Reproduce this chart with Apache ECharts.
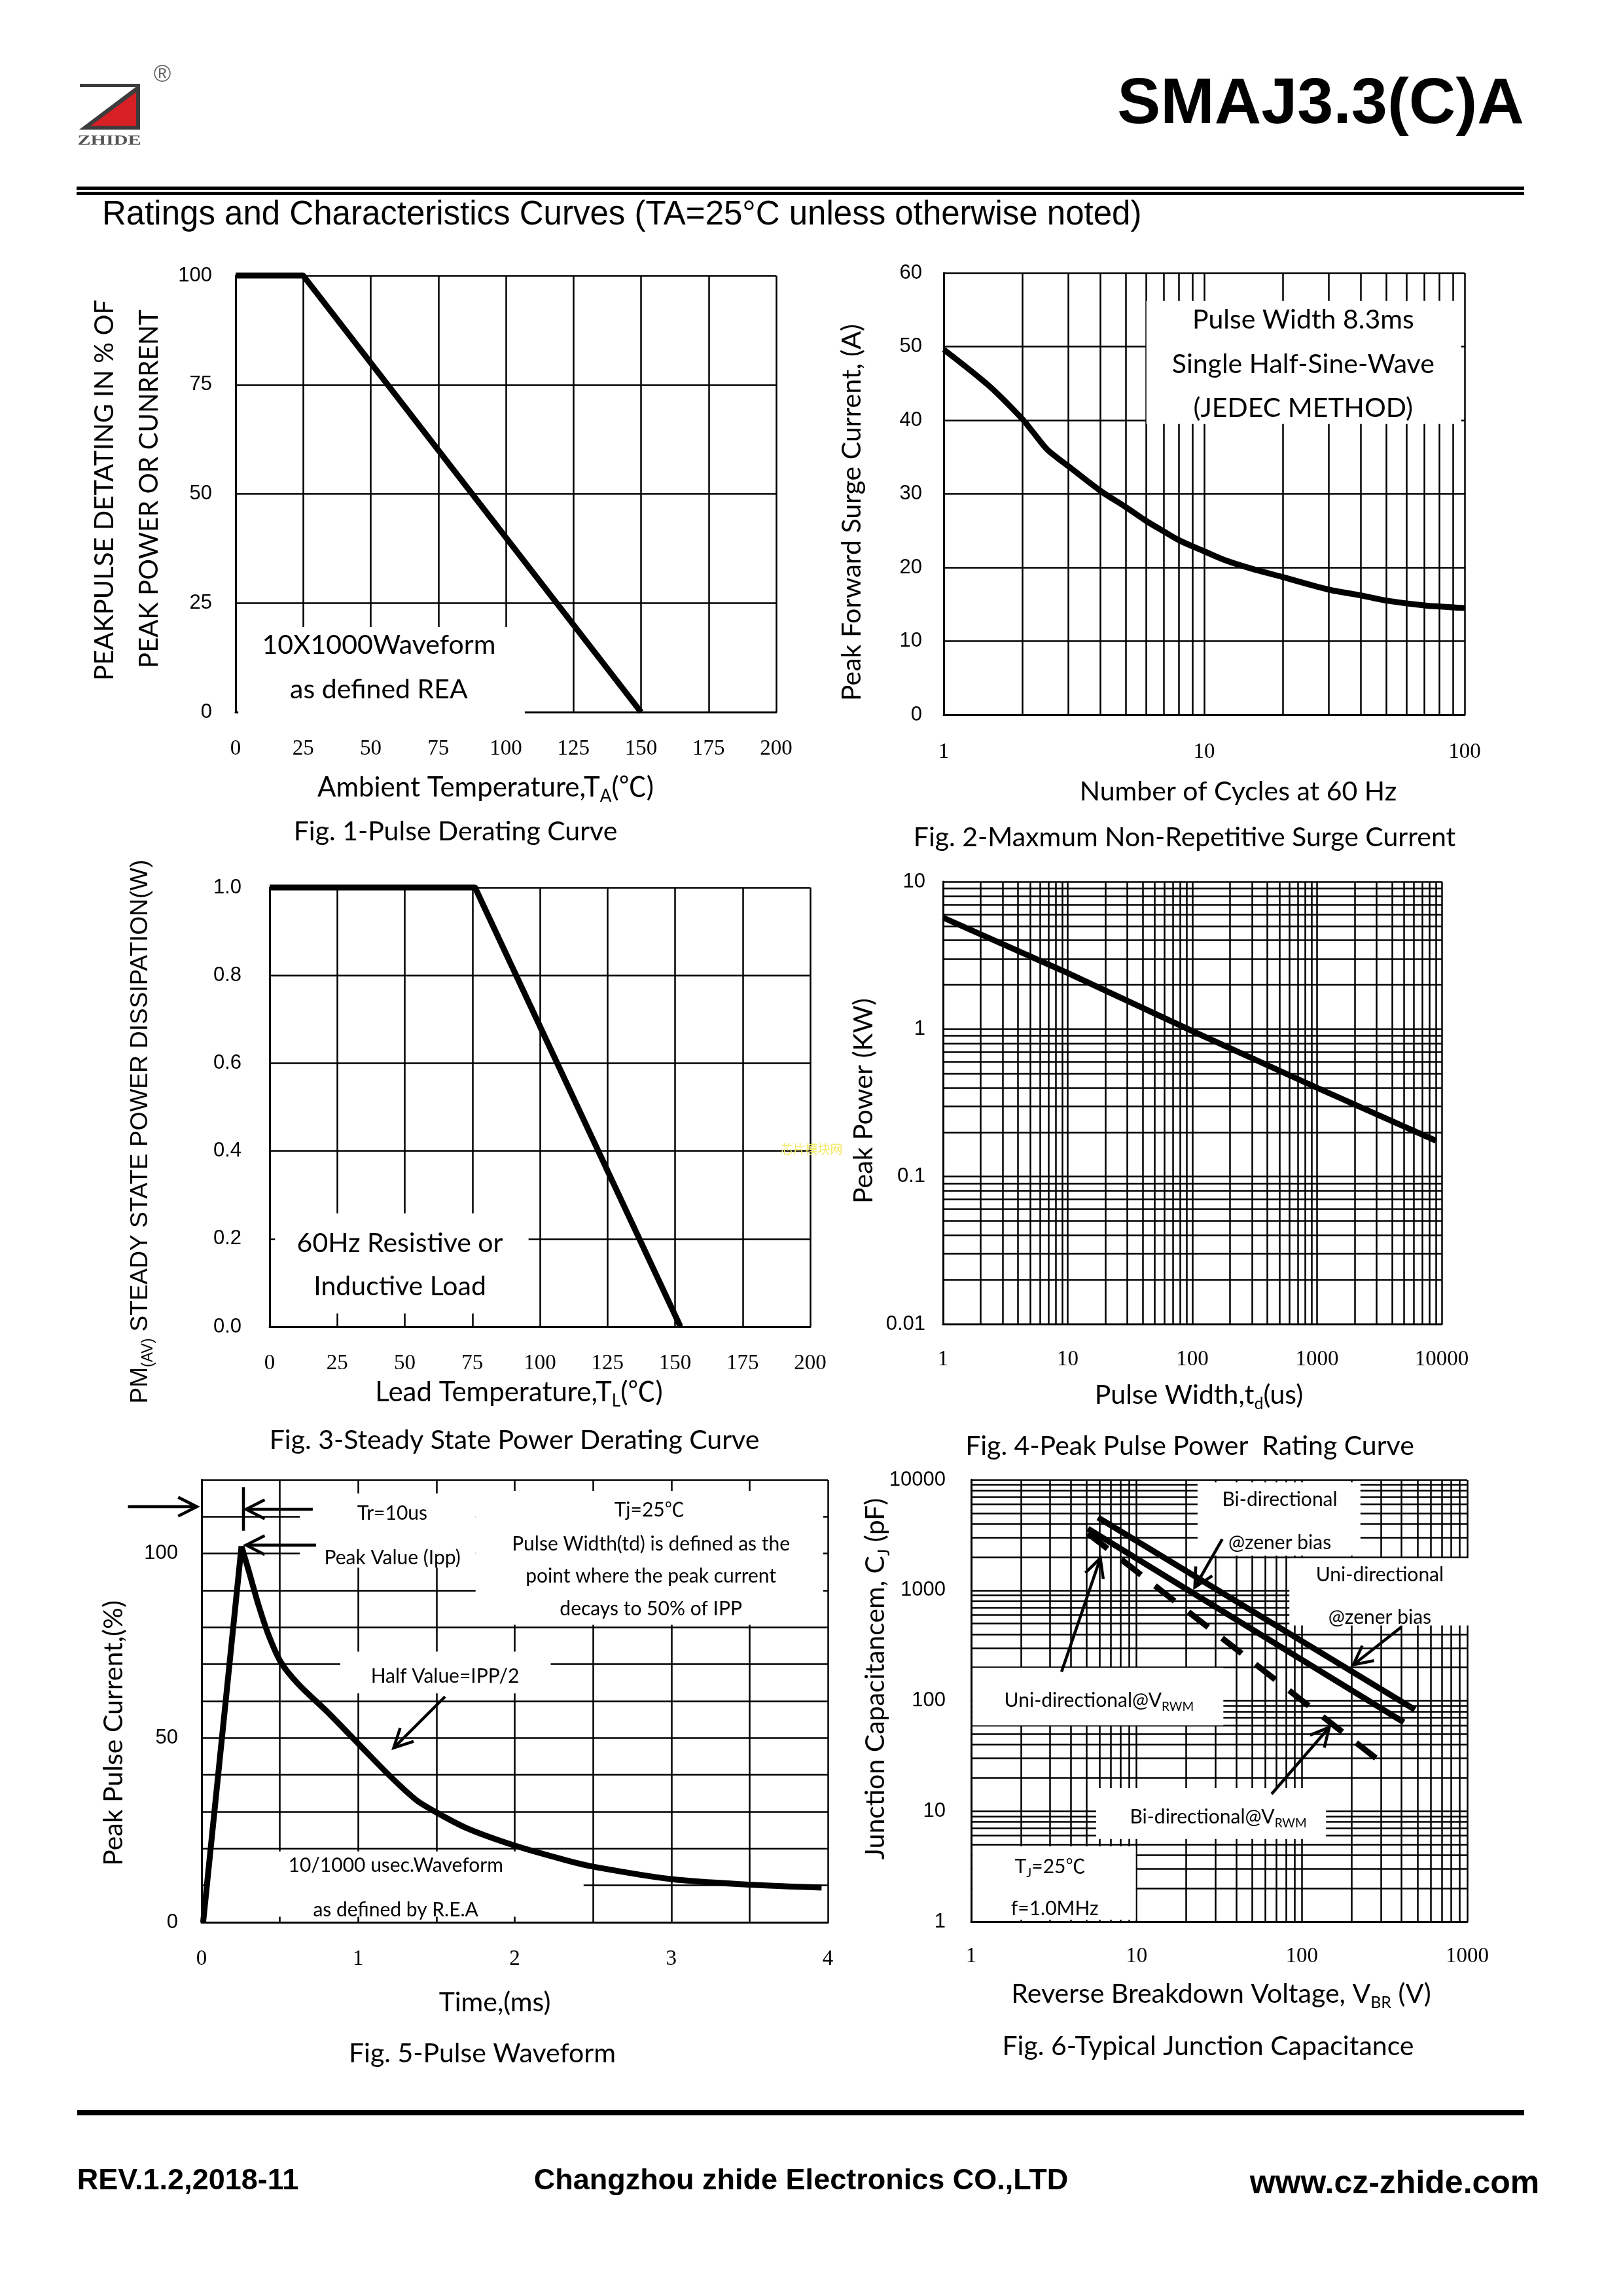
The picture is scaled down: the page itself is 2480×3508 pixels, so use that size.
<!DOCTYPE html>
<html>
<head>
<meta charset="utf-8">
<script src="https://cdn.jsdelivr.net/npm/echarts@6/dist/echarts.min.js"></script>
<style>
html,body{margin:0;padding:0;background:#fff;}
#c{width:2480px;height:3508px;}
</style>
</head>
<body>
<div id="c"></div>
<script>
// ===================== DATA =====================
// Fig.1 Pulse Derating Curve
const fig1XTicks = [0, 25, 50, 75, 100, 125, 150, 175, 200];
const fig1YTicks = [0, 25, 50, 75, 100];
const fig1Temp = [0, 25, 150];
const fig1Percent = [100, 100, 0];

// Fig.2 Maximum Non-Repetitive Surge Current
const fig2XTicks = [1, 10, 100];
const fig2YTicks = [0, 10, 20, 30, 40, 50, 60];
const fig2Cycles = [1, 1.5, 2, 2.2, 2.5, 3, 4, 5, 6, 7, 8, 10, 12, 15, 20, 30, 40, 50, 70, 100];
const fig2Current = [49.6, 44.6, 40.2, 38.4, 36.0, 33.8, 30.4, 28.2, 26.3, 24.9, 23.7, 22.2, 21.0, 19.9, 18.7, 17.0, 16.2, 15.5, 14.85, 14.5];

// Fig.3 Steady State Power Derating Curve
const fig3XTicks = [0, 25, 50, 75, 100, 125, 150, 175, 200];
const fig3YTicks = [0, 0.2, 0.4, 0.6, 0.8, 1.0];
const fig3Temp = [0, 76, 152];
const fig3Power = [1.0, 1.0, 0];

// Fig.4 Peak Pulse Power Rating Curve
const fig4XTicks = [1, 10, 100, 1000, 10000];
const fig4YTicks = [0.01, 0.1, 1, 10];
const fig4Width = [1, 10, 100, 1000, 9000];
const fig4Power = [5.7, 2.4, 0.97, 0.40, 0.175];

// Fig.5 Pulse Waveform
const fig5XTicks = [0, 1, 2, 3, 4];
const fig5YTicks = [0, 50, 100];
const fig5YMax = 120;
const fig5RiseTime = [0.01, 0.255];
const fig5RiseCurrent = [0, 102];
const fig5DecayTime = [0.255, 0.3, 0.364, 0.427, 0.507, 0.62, 0.8, 1.0, 1.2, 1.37, 1.5, 1.7, 2.0, 2.33, 2.5, 3.0, 3.5, 3.96];
const fig5DecayCurrent = [102, 95.5, 86, 78, 70.5, 64.5, 57.2, 48.5, 39.8, 33.2, 29.8, 25.4, 20.8, 16.8, 15.1, 11.7, 10.2, 9.4];

// Fig.6 Typical Junction Capacitance
const fig6XTicks = [1, 10, 100, 1000];
const fig6YTicks = [1, 10, 100, 1000, 10000];
const fig6UniZenerV = [5.85, 482];
const fig6UniZenerC = [4550, 83];
const fig6BiZenerV = [5.08, 413];
const fig6BiZenerC = [3614, 63.8];
const fig6RwmV = [5.08, 286];
const fig6RwmC = [3270, 29.5];

// ===================== STYLE / LAYOUT =====================
const BLACK = '#000';
const GRID_W = 2.5;
const LINE_W = 9;
const SANS = '"Liberation Sans", Arial, sans-serif';
const SERIF = '"Liberation Serif", "Times New Roman", serif';
const CAL = 'Lato, "Noto Sans CJK SC", sans-serif';

const grids = [
  {left: 360, top: 421, width: 826, height: 667},
  {left: 1442, top: 417, width: 796, height: 675},
  {left: 412, top: 1356, width: 826, height: 671},
  {left: 1441, top: 1347, width: 762, height: 676},
  {left: 308, top: 2261, width: 957, height: 676},
  {left: 1484, top: 2261, width: 758, height: 675}
];

function isTick(ticks, v) {
  return ticks.some(t => Math.abs(t - v) <= 1e-9 * Math.max(1, Math.abs(t)));
}

function makeAxis(gi, dim, ticks, o) {
  const ax = {
    gridIndex: gi,
    type: o.log ? 'log' : 'value',
    min: ticks[0],
    max: o.max !== undefined ? o.max : ticks[ticks.length - 1],
    axisLine: {show: true, onZero: false, lineStyle: {color: BLACK, width: 3}},
    axisTick: {show: false},
    splitLine: {show: true, lineStyle: {color: BLACK, width: GRID_W}},
    axisLabel: {
      show: true,
      color: BLACK,
      fontFamily: dim === 'x' ? SERIF : SANS,
      fontSize: dim === 'x' ? 33 : 31,
      margin: o.margin,
      formatter: function (v) {
        const n = +(+v).toPrecision(8);
        if (!isTick(ticks, n)) return '';
        return o.fmt ? o.fmt(n) : String(n);
      }
    },
    z: 0
  };
  if (o.log) ax.logBase = 10;
  else ax.interval = o.step || (ticks[1] - ticks[0]);
  return ax;
}

function logMinors(min, max) {
  const out = [];
  for (let d = min; d < max * 0.999; d *= 10) {
    for (let k = 2; k <= 9; k++) out.push(+(d * k).toPrecision(8));
  }
  return out;
}

function curve(gi, xs, ys, o) {
  o = o || {};
  return {
    type: 'line', xAxisIndex: gi, yAxisIndex: gi,
    data: xs.map((x, i) => [x, ys[i]]),
    symbol: 'none', showSymbol: false,
    smooth: o.smooth || false,
    lineStyle: {color: BLACK, width: o.width || LINE_W, type: o.dash || 'solid', cap: 'butt', join: 'round'},
    z: 7, silent: true, clip: false, animation: false
  };
}

function minorGrid(gi, xs, ys) {
  return {
    type: 'line', xAxisIndex: gi, yAxisIndex: gi, data: [], z: 1, silent: true,
    markLine: {
      z: 1, silent: true, symbol: ['none', 'none'], label: {show: false},
      lineStyle: {color: BLACK, width: GRID_W, type: 'solid'},
      emphasis: {disabled: true}, animation: false,
      data: xs.map(v => ({xAxis: v})).concat(ys.map(v => ({yAxis: v})))
    }
  };
}

const option = {
  animation: false,
  backgroundColor: '#fff',
  grid: grids.map(g => Object.assign({show: false, containLabel: false, outerBoundsMode: 'none'}, g)),
  xAxis: [
    makeAxis(0, 'x', fig1XTicks, {margin: 40}),
    makeAxis(1, 'x', fig2XTicks, {log: true, margin: 41}),
    makeAxis(2, 'x', fig3XTicks, {margin: 40}),
    makeAxis(3, 'x', fig4XTicks, {log: true, margin: 38}),
    makeAxis(4, 'x', fig5XTicks, {margin: 40, step: 0.5}),
    makeAxis(5, 'x', fig6XTicks, {log: true, margin: 37})
  ],
  yAxis: [
    makeAxis(0, 'y', fig1YTicks, {margin: 36}),
    makeAxis(1, 'y', fig2YTicks, {margin: 33}),
    makeAxis(2, 'y', fig3YTicks, {margin: 43, fmt: v => v.toFixed(1)}),
    makeAxis(3, 'y', fig4YTicks, {log: true, margin: 27}),
    makeAxis(4, 'y', fig5YTicks, {margin: 36, step: 10, max: fig5YMax}),
    makeAxis(5, 'y', fig6YTicks, {log: true, margin: 39})
  ],
  series: [
    minorGrid(1, logMinors(1, 100), []),
    minorGrid(3, logMinors(1, 10000), logMinors(0.01, 10)),
    minorGrid(5, logMinors(1, 1000), logMinors(1, 10000)),
    curve(0, fig1Temp, fig1Percent),
    curve(1, fig2Cycles, fig2Current, {smooth: 0.3}),
    curve(2, fig3Temp, fig3Power),
    curve(3, fig4Width, fig4Power),
    curve(4, fig5RiseTime, fig5RiseCurrent),
    curve(4, fig5DecayTime, fig5DecayCurrent, {smooth: 0.3}),
    curve(5, fig6UniZenerV, fig6UniZenerC),
    curve(5, fig6BiZenerV, fig6BiZenerC),
    curve(5, fig6RwmV, fig6RwmC, {dash: [38, 27]})
  ]
};

const chart = echarts.init(document.getElementById('c'), null, {renderer: 'canvas', width: 2480, height: 3508});
chart.setOption(option);

// ===================== ANNOTATIONS =====================
function P(gi, x, y) { return chart.convertToPixel({gridIndex: gi}, [x, y]); }

function T(x, y, text, size, o) {
  o = o || {};
  const al = o.align || 'center';
  const style = {
    text: text, fontSize: size, fontFamily: o.font || CAL, fontWeight: o.weight || 'normal',
    fill: o.fill || BLACK, textFill: o.fill || BLACK,
    align: al, verticalAlign: 'middle', textAlign: al, textVerticalAlign: 'middle'
  };
  if (o.rich) {
    style.rich = o.rich;
    style.lineHeight = Math.round(size * 1.25);
  }
  const el = {type: 'text', x: x, y: y, z: 9, silent: true, style: style};
  if (o.rot) el.rotation = o.rot;
  if (o.scaleX) el.scaleX = o.scaleX;
  return el;
}
function subRich(size, font) {
  return {s: {fontSize: Math.round(size * 0.62), fontFamily: font || CAL, fill: BLACK, textFill: BLACK,
              verticalAlign: 'bottom', lineHeight: Math.round(size * 0.62)}};
}
function DT(gi, x, y, text, size, o) { const p = P(gi, x, y); return T(p[0], p[1], text, size, o); }

function box(gi, x1, y1, x2, y2) {
  const a = P(gi, x1, y1), b = P(gi, x2, y2);
  return {type: 'rect', z: 6, silent: true,
    shape: {x: Math.min(a[0], b[0]), y: Math.min(a[1], b[1]), width: Math.abs(b[0] - a[0]), height: Math.abs(b[1] - a[1])},
    style: {fill: '#fff', stroke: 'none'}};
}
function seg(points, w, z) {
  return {type: 'polyline', z: z || 8, silent: true, shape: {points: points},
    style: {stroke: BLACK, lineWidth: w, fill: 'none', lineCap: 'butt', lineJoin: 'miter'}};
}
function arrowPx(a, b, w, head, ang) {
  w = w || 4.5; head = head || 32; ang = ang || 0.47;
  const dx = a[0] - b[0], dy = a[1] - b[1];
  const L = Math.hypot(dx, dy), ux = dx / L, uy = dy / L;
  const c = Math.cos(ang), s = Math.sin(ang);
  const r1 = [ux * c - uy * s, ux * s + uy * c];
  const r2 = [ux * c + uy * s, -ux * s + uy * c];
  return [
    seg([a, b], w),
    seg([[b[0] + r1[0] * head, b[1] + r1[1] * head], b, [b[0] + r2[0] * head, b[1] + r2[1] * head]], w)
  ];
}
function arrow(gi, from, to) { return arrowPx(P(gi, from[0], from[1]), P(gi, to[0], to[1])); }

const G = [];

// ---- Header ----
G.push({type: 'rect', z: 9, shape: {x: 122, y: 128, width: 92, height: 5}, style: {fill: '#3c3c3c'}});
G.push({type: 'polygon', z: 9, shape: {points: [[214, 128], [214, 198], [121, 198]]}, style: {fill: '#3c3c3c'}});
G.push({type: 'polygon', z: 10, shape: {points: [[208, 141], [208, 192.5], [138, 192.5]]}, style: {fill: '#d71f26'}});
G.push(T(167, 215, 'ZHIDE', 22, {font: SERIF, weight: 'bold', fill: '#555', scaleX: 1.37}));
G.push(T(248, 115, '®', 36, {font: SANS, fill: '#666'}));
G.push(T(2018, 161, 'SMAJ3.3(C)A', 99, {font: SANS, weight: 'bold'}));
G.push({type: 'rect', z: 9, shape: {x: 117, y: 285, width: 2212, height: 5}, style: {fill: BLACK}});
G.push({type: 'rect', z: 9, shape: {x: 117, y: 293, width: 2212, height: 5}, style: {fill: BLACK}});
G.push(T(156, 329, 'Ratings and Characteristics Curves (TA=25°C unless otherwise noted)', 51, {font: SANS, align: 'left'}));

// ---- Footer ----
G.push({type: 'rect', z: 9, shape: {x: 118, y: 3224, width: 2211, height: 8}, style: {fill: BLACK}});
G.push(T(287, 3333, 'REV.1.2,2018-11', 45, {font: SANS, weight: 'bold'}));
G.push(T(1224, 3333, 'Changzhou zhide Electronics CO.,LTD', 45, {font: SANS, weight: 'bold'}));
G.push(T(2131, 3337, 'www.cz-zhide.com', 50, {font: SANS, weight: 'bold'}));

const ROT = Math.PI / 2;
// ---- Fig.1 ----
G.push(box(0, 1, -2, 107, 19.5));
G.push(DT(0, 53, 15.3, '10X1000Waveform', 41));
G.push(DT(0, 53, 5.1, 'as defined REA', 41));
G.push(T(742, 1203, 'Ambient Temperature,T{s|A}(℃)', 42, {rich: subRich(42)}));
G.push(T(696, 1271, 'Fig. 1-Pulse Derating Curve', 41));
G.push(T(160, 749, 'PEAKPULSE DETATING IN % OF', 40, {rot: ROT}));
G.push(T(228, 747, 'PEAK POWER OR CUNRRENT', 40, {rot: ROT}));

// ---- Fig.2 ----
G.push(box(1, 6, 39.5, 97, 56.2));
G.push(DT(1, 24, 53.6, 'Pulse Width 8.3ms', 41));
G.push(DT(1, 24, 47.6, 'Single Half-Sine-Wave', 41));
G.push(DT(1, 24, 41.6, '(JEDEC METHOD)', 41));
G.push(T(1892, 1210, 'Number of Cycles at 60 Hz', 41));
G.push(T(1810, 1280, 'Fig. 2-Maxmum Non-Repetitive Surge Current', 41));
G.push(T(1302, 783, 'Peak Forward Surge Current, (A)', 41, {rot: ROT}));

// ---- Fig.3 ----
G.push(box(2, 2, 0.03, 95.8, 0.258));
G.push(DT(2, 48.2, 0.19, '60Hz Resistive or', 41));
G.push(DT(2, 48.2, 0.091, 'Inductive Load', 41));
G.push(T(793, 2127, 'Lead Temperature,T{s|L}(℃)', 42, {rich: subRich(42)}));
G.push(T(786, 2201, 'Fig. 3-Steady State Power Derating Curve', 41));
G.push(T(215, 1729, 'PM{s|(AV)} STEADY STATE POWER DISSIPATION(W)', 37, {rot: ROT, font: SANS, rich: subRich(37, SANS)}));
G.push(T(1240, 1756, '芯片模块网', 19, {font: '"Noto Sans CJK SC", sans-serif', fill: '#f3e96a'}));

// ---- Fig.4 ----
G.push(T(1832, 2132, 'Pulse Width,t{s|d}(us)', 41, {rich: subRich(41)}));
G.push(T(1818, 2210, 'Fig. 4-Peak Pulse Power  Rating Curve', 41));
G.push(T(1320, 1682, 'Peak Power (KW)', 41, {rot: ROT}));

// ---- Fig.5 ----
G.push(box(4, 0.627, 96.2, 1.75, 116.3));
G.push(box(4, 1.75, 80.7, 3.97, 117));
G.push(box(4, 0.886, 62.1, 2.23, 73.4));
G.push(box(4, 0.02, 1.5, 2.44, 19.2));
[
  ['Tr=10us', 1.218, 110.8], ['Peak Value (Ipp)', 1.219, 98.9], ['Tj=25℃', 2.86, 111.7],
  ['Pulse Width(td) is defined as the', 2.87, 102.6], ['point where the peak current', 2.87, 93.8],
  ['decays to 50% of IPP', 2.87, 85.0], ['Half Value=IPP/2', 1.555, 66.6],
  ['10/1000 usec.Waveform', 1.24, 15.4], ['as defined by R.E.A', 1.24, 3.4]
].forEach(a => G.push(DT(4, a[1], a[2], a[0], 30)));
arrow(4, [-0.47, 112.7], [-0.03, 112.7]).forEach(e => G.push(e));
G.push(seg([P(4, 0.2675, 118), P(4, 0.2675, 106.2)], 4.5));
arrow(4, [0.71, 112], [0.284, 112]).forEach(e => G.push(e));
arrow(4, [0.731, 102.3], [0.284, 102.3]).forEach(e => G.push(e));
arrow(4, [1.555, 61.2], [1.227, 47.3]).forEach(e => G.push(e));
G.push(T(756, 3060, 'Time,(ms)', 41));
G.push(T(737, 3138, 'Fig. 5-Pulse Waveform', 41));
G.push(T(174, 2648, 'Peak Pulse Current,(%)', 41, {rot: ROT}));

// ---- Fig.6 ----
G.push(box(5, 23.4, 2060, 226, 9500));
G.push(box(5, 84, 480, 1030, 1950));
G.push(box(5, 1.02, 59.7, 33.5, 199));
G.push(box(5, 5.7, 5.6, 140, 16.2));
G.push(box(5, 1.02, 1.04, 9.9, 4.8));
G.push(DT(5, 73.5, 6640, 'Bi-directional', 30));
G.push(DT(5, 73.5, 2700, '@zener bias', 30));
G.push(DT(5, 296, 1384, 'Uni-directional', 30));
G.push(DT(5, 296, 564, '@zener bias', 30));
G.push(DT(5, 5.93, 100, 'Uni-directional@V{s|RWM}', 30, {rich: subRich(30)}));
G.push(DT(5, 31.2, 8.8, 'Bi-directional@V{s|RWM}', 30, {rich: subRich(30)}));
G.push(DT(5, 3.0, 3.15, 'T{s|J}=25℃', 30, {rich: subRich(30)}));
G.push(DT(5, 3.2, 1.31, 'f=1.0MHz', 30));
arrow(5, [33, 2904], [22.5, 1063]).forEach(e => G.push(e));
arrow(5, [400, 466], [205, 212]).forEach(e => G.push(e));
arrow(5, [3.52, 183], [6.04, 1950]).forEach(e => G.push(e));
arrow(5, [65.6, 14.3], [146.5, 57.5]).forEach(e => G.push(e));
G.push(T(1866, 3047, 'Reverse Breakdown Voltage, V{s|BR} (V)', 41, {rich: subRich(41)}));
G.push(T(1846, 3127, 'Fig. 6-Typical Junction Capacitance', 41));
G.push(T(1338, 2565, 'Junction Capacitancem, C{s|J} (pF)', 41, {rot: ROT, rich: subRich(41)}));

chart.setOption({graphic: G});
</script>
</body>
</html>
